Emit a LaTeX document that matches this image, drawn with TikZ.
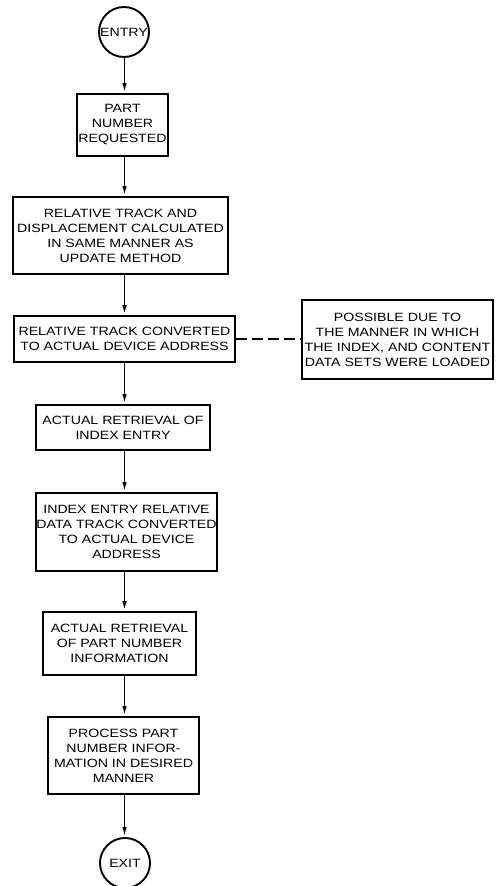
\documentclass[tikz,border=0pt]{standalone}
\usepackage{fontspec}
\setmainfont{Liberation Sans}[FakeStretch=1.18]
\usetikzlibrary{arrows.meta}

\begin{document}
\begin{tikzpicture}[x=1pt,y=-1pt,
  lettering/.style={font=\fontsize{12}{15}\selectfont},
  box/.style={draw, line width=2pt, rectangle, inner sep=0pt, align=center, lettering},
  term/.style={draw, circle, line width=1.9pt, inner sep=0pt, minimum size=50pt, lettering},
  flow/.style={line width=1.7pt, -{Latex[length=10pt,width=4.5pt]}},
  notelink/.style={line width=1.4pt, dash pattern=on 11pt off 5pt}]

\useasboundingbox (0,0) rectangle (497,886);

% vertical axis of the main flow
\coordinate (axis) at (124.5,0);

% terminals
\node[term] (entry) at (124,32) {ENTRY};
\node[term] (exit)  at (125,863) {EXIT};

% process steps
\node[box, minimum width=91pt,  minimum height=62pt] (b1) at (122.5,125)
  {PART\\NUMBER\\REQUESTED};
\node[box, minimum width=215pt, minimum height=77pt] (b2) at (120.5,235.5)
  {RELATIVE TRACK AND\\DISPLACEMENT CALCULATED\\IN SAME MANNER AS\\UPDATE METHOD};
\node[box, minimum width=221pt, minimum height=46pt] (b3) at (124.5,339)
  {RELATIVE TRACK CONVERTED\\TO ACTUAL DEVICE ADDRESS};
\node[box, minimum width=174pt, minimum height=45pt] (b4) at (123,427.5)
  {ACTUAL RETRIEVAL OF\\INDEX ENTRY};
\node[box, minimum width=179pt, minimum height=78pt] (b5) at (126.5,532)
  {INDEX ENTRY RELATIVE\\DATA TRACK CONVERTED\\TO ACTUAL DEVICE\\ADDRESS};
\node[box, minimum width=153pt, minimum height=63pt] (b6) at (119.5,643.5)
  {ACTUAL RETRIEVAL\\OF PART NUMBER\\INFORMATION};
\node[box, minimum width=151pt, minimum height=77pt] (b7) at (123.5,755.5)
  {PROCESS PART\\NUMBER INFOR-\\MATION IN DESIRED\\MANNER};

% side remark
\node[box, minimum width=191pt, minimum height=79pt] (note) at (397.5,339.5)
  {POSSIBLE DUE TO\\THE MANNER IN WHICH\\THE INDEX, AND CONTENT\\DATA SETS WERE LOADED};

% connectors
\draw[flow] (entry.south -| axis) -- (b1.north -| axis);
\draw[flow] (b1.south -| axis) -- (b2.north -| axis);
\draw[flow] (b2.south -| axis) -- (b3.north -| axis);
\draw[flow] (b3.south -| axis) -- (b4.north -| axis);
\draw[flow] (b4.south -| axis) -- (b5.north -| axis);
\draw[flow] (b5.south -| axis) -- (b6.north -| axis);
\draw[flow] (b6.south -| axis) -- (b7.north -| axis);
\draw[flow] (b7.south -| axis) -- (exit.north -| axis);
\draw[notelink] (b3.east) -- (b3.east -| note.west);
\end{tikzpicture}
\end{document}
